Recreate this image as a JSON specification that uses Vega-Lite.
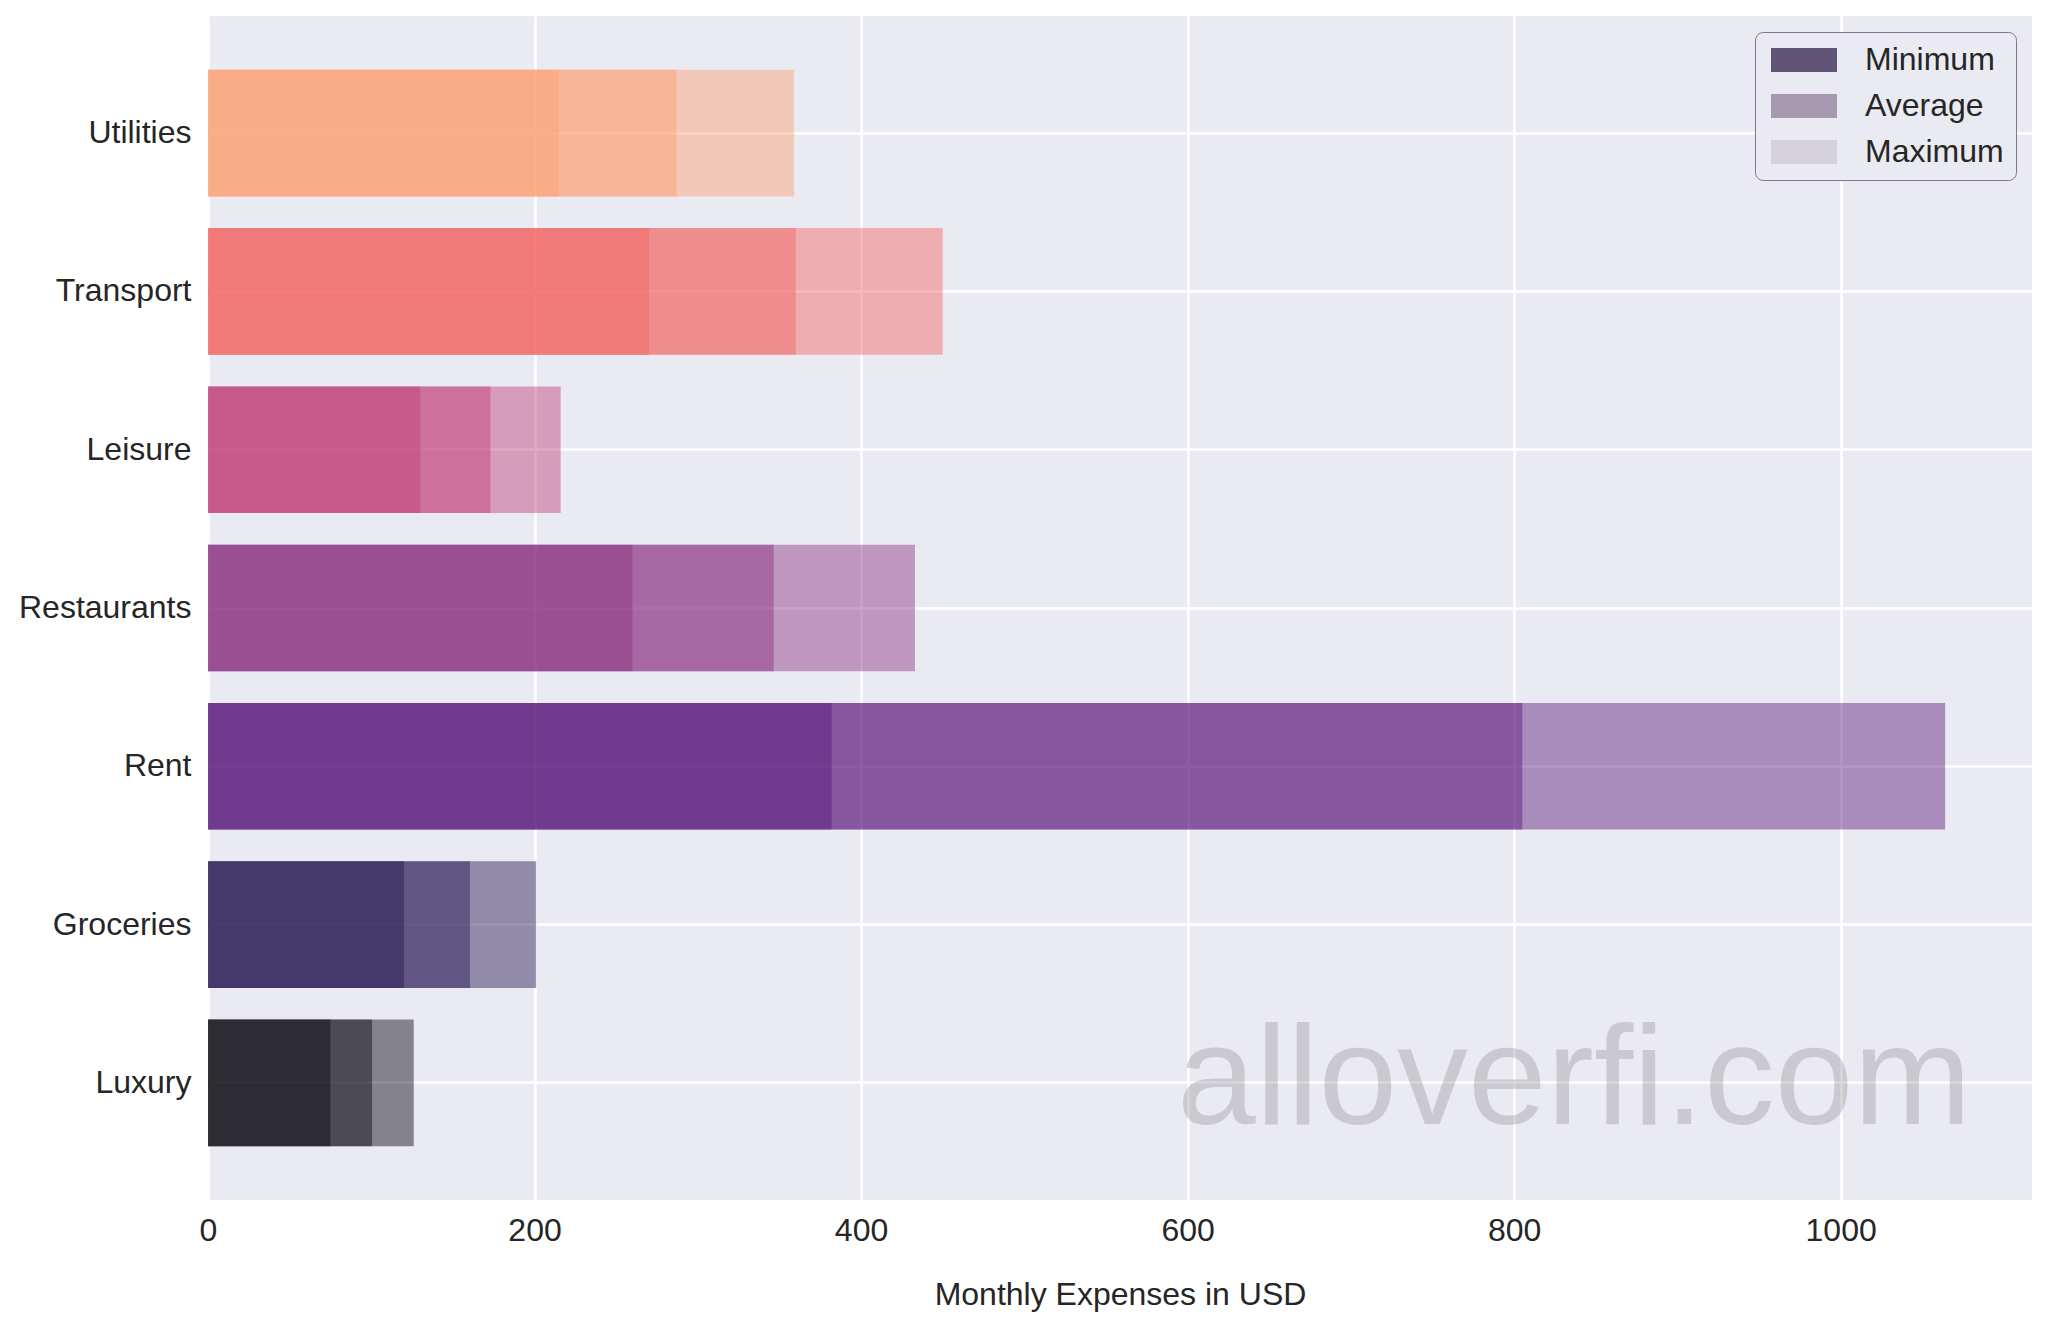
{
  "$schema": "https://vega.github.io/schema/vega-lite/v6.json",
  "width": 1824,
  "height": 1184,
  "autosize": {"type": "none"},
  "padding": {"left": 208, "top": 16, "right": 16, "bottom": 124},
  "background": "white",
  "config": {
    "font": "Liberation Sans",
    "view": {"fill": "#EAEAF2", "stroke": null},
    "axis": {
      "labelFont": "Liberation Sans",
      "labelFontSize": 32,
      "labelColor": "#262626",
      "titleFont": "Liberation Sans",
      "titleFontSize": 32,
      "titleFontWeight": "normal",
      "titleColor": "#262626",
      "domain": false,
      "ticks": false,
      "gridColor": "#FFFFFF",
      "gridWidth": 2.5,
      "gridOpacity": 1
    },
    "legend": {
      "labelFont": "Liberation Sans",
      "labelFontSize": 32,
      "labelColor": "#262626"
    }
  },
  "data": {
    "values": [
      {"category": "Utilities", "stat": "Minimum", "value": 215},
      {"category": "Utilities", "stat": "Average", "value": 287},
      {"category": "Utilities", "stat": "Maximum", "value": 359},
      {"category": "Transport", "stat": "Minimum", "value": 270},
      {"category": "Transport", "stat": "Average", "value": 360},
      {"category": "Transport", "stat": "Maximum", "value": 450},
      {"category": "Leisure", "stat": "Minimum", "value": 130},
      {"category": "Leisure", "stat": "Average", "value": 173},
      {"category": "Leisure", "stat": "Maximum", "value": 216},
      {"category": "Restaurants", "stat": "Minimum", "value": 260},
      {"category": "Restaurants", "stat": "Average", "value": 346.5},
      {"category": "Restaurants", "stat": "Maximum", "value": 433},
      {"category": "Rent", "stat": "Minimum", "value": 382},
      {"category": "Rent", "stat": "Average", "value": 805},
      {"category": "Rent", "stat": "Maximum", "value": 1064},
      {"category": "Groceries", "stat": "Minimum", "value": 120},
      {"category": "Groceries", "stat": "Average", "value": 160.5},
      {"category": "Groceries", "stat": "Maximum", "value": 201},
      {"category": "Luxury", "stat": "Minimum", "value": 75},
      {"category": "Luxury", "stat": "Average", "value": 100.5},
      {"category": "Luxury", "stat": "Maximum", "value": 126}
    ]
  },
  "layer": [
    {
      "mark": {"type": "bar", "opacity": 0.45},
      "encoding": {
        "x": {
          "field": "value",
          "type": "quantitative",
          "stack": null,
          "scale": {"domain": [0, 1117.2], "nice": false, "zero": true},
          "axis": {
            "values": [0, 200, 400, 600, 800, 1000],
            "format": "d",
            "labelFlush": false,
            "grid": true,
            "labelPadding": 15,
            "titlePadding": 33,
            "title": "Monthly Expenses in USD"
          }
        },
        "y": {
          "field": "category",
          "type": "nominal",
          "sort": ["Utilities", "Transport", "Leisure", "Restaurants", "Rent", "Groceries", "Luxury"],
          "scale": {"paddingInner": 0.2, "paddingOuter": 0.34},
          "axis": {"title": null, "grid": true, "bandPosition": 0.5, "labelPadding": 17}
        },
        "color": {
          "field": "category",
          "type": "nominal",
          "scale": {
            "domain": ["Utilities", "Transport", "Leisure", "Restaurants", "Rent", "Groceries", "Luxury"],
            "range": ["#FCA070", "#F16462", "#C13D75", "#8B3081", "#5A197A", "#25174F", "#08060E"]
          },
          "legend": null
        }
      }
    },
    {
      "transform": [{"filter": "datum.value < 0"}],
      "mark": {"type": "bar"},
      "encoding": {
        "x": {"field": "value", "type": "quantitative", "stack": null},
        "y": {"field": "category", "type": "nominal", "sort": ["Utilities", "Transport", "Leisure", "Restaurants", "Rent", "Groceries", "Luxury"]},
        "fill": {
          "field": "stat",
          "type": "nominal",
          "scale": {
            "domain": ["Minimum", "Average", "Maximum"],
            "range": ["#5F5475", "#A598B0", "#D5D2DA"]
          },
          "legend": {
            "title": null,
            "orient": "top-right",
            "offset": 16,
            "padding": 12,
            "fillColor": "#EAEAF2",
            "strokeColor": "#807496",
            "cornerRadius": 8,
            "symbolType": "M-1,-1H4.5V1H-1Z",
            "symbolSize": 576,
            "symbolStrokeWidth": 0,
            "labelOffset": 66,
            "rowPadding": 14
          }
        }
      }
    },
    {
      "data": {"values": [{}]},
      "mark": {
        "type": "text",
        "text": "alloverfi.com",
        "align": "right",
        "baseline": "alphabetic",
        "dy": 41,
        "fontSize": 141.5,
        "font": "Liberation Sans",
        "color": "#808080",
        "opacity": 0.3
      },
      "encoding": {
        "x": {"datum": 1080, "type": "quantitative"},
        "y": {"datum": "Luxury", "type": "nominal"}
      }
    }
  ]
}
